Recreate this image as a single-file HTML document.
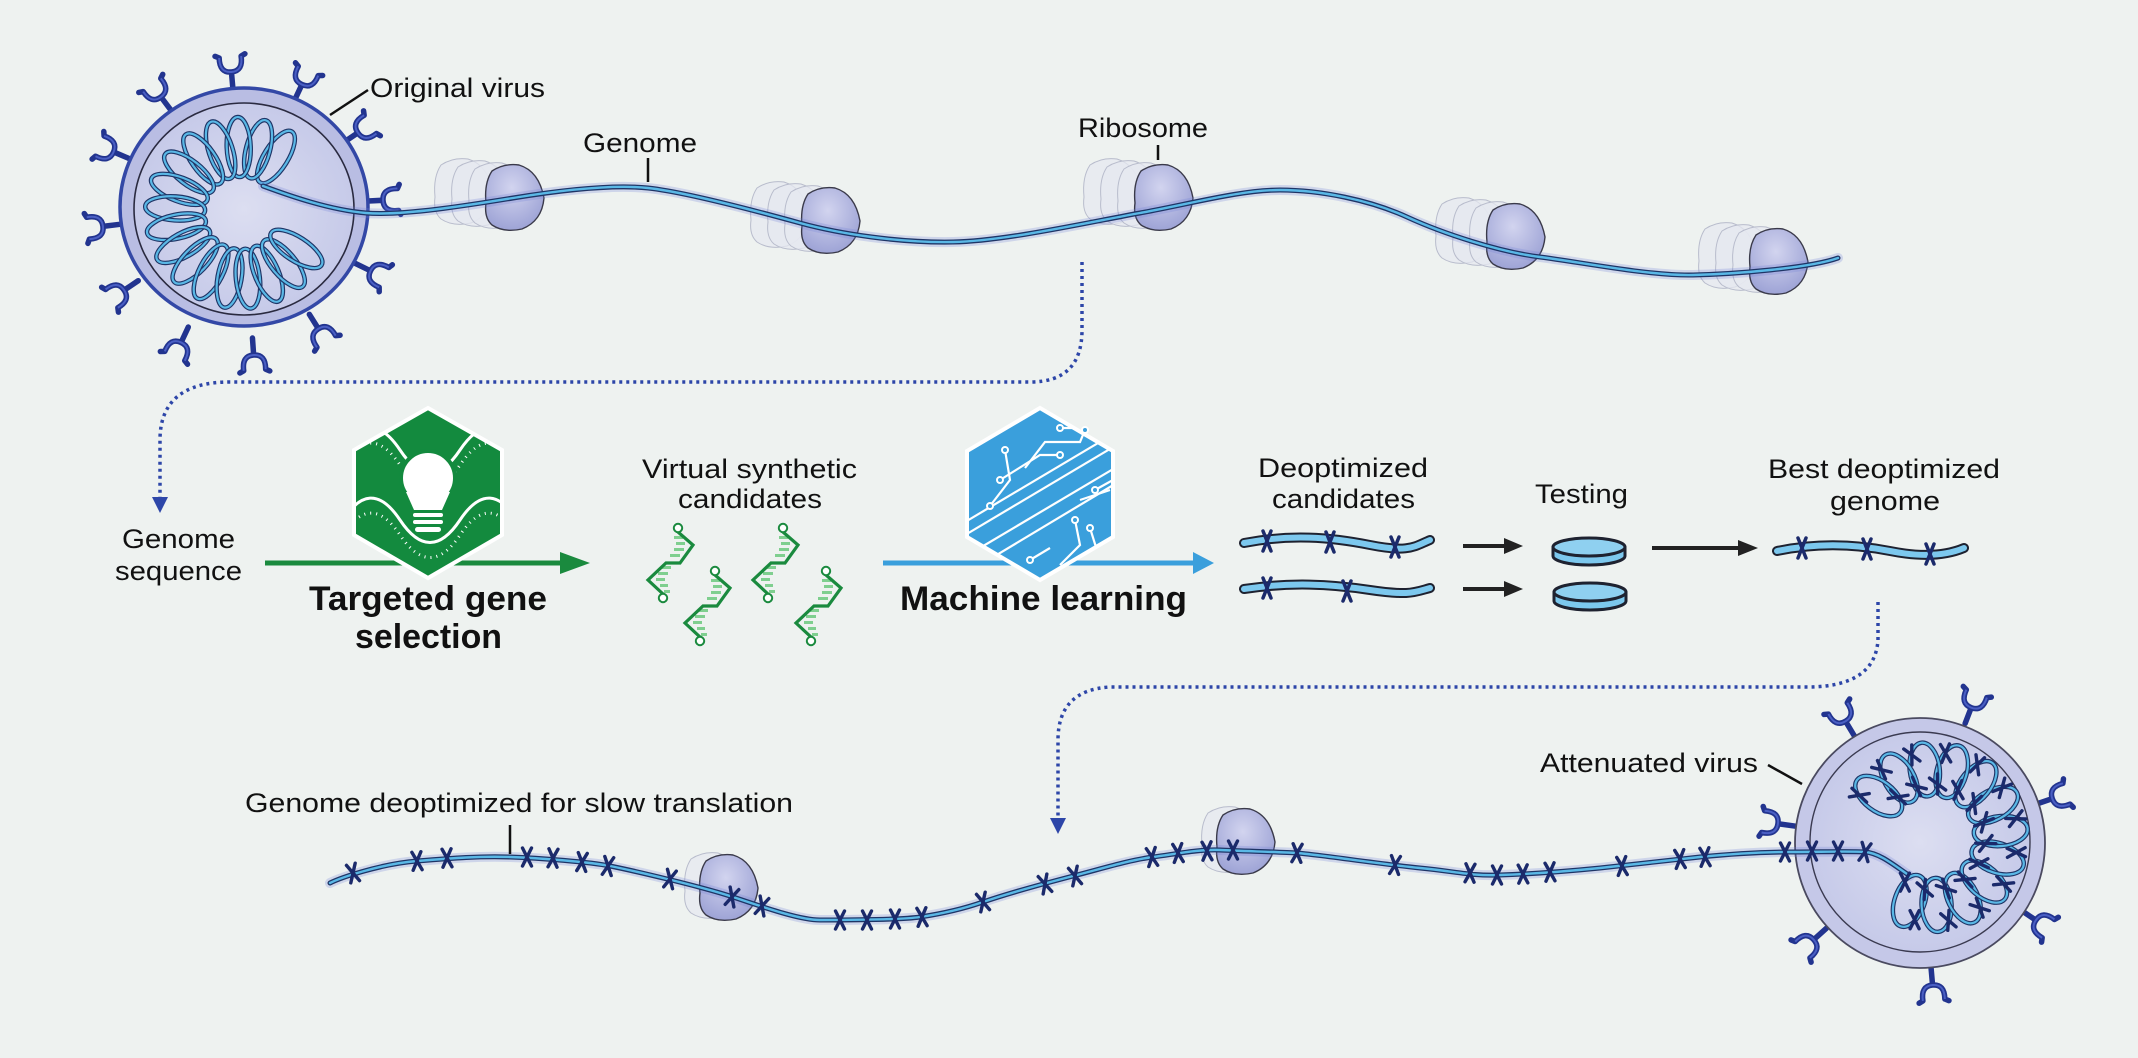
<!DOCTYPE html>
<html><head><meta charset="utf-8">
<style>
html,body{margin:0;padding:0;background:#eef2f0;}
svg{display:block;}
text{font-family:"Liberation Sans",sans-serif;fill:#111;}
.s1{fill:none;stroke:#6f80d8;stroke-width:10;stroke-opacity:.25;stroke-linecap:round}
.s2{fill:none;stroke:#1f3566;stroke-width:5;stroke-linecap:round}
.s3{fill:none;stroke:#5ab8e6;stroke-width:2.4;stroke-linecap:round}
.gh{fill:#e6e8f0;fill-opacity:.75;stroke:#b8bccc;stroke-width:1}
.rb{fill:url(#rib);stroke:#3a3a4a;stroke-width:1.4}
</style></head>
<body>
<svg xmlns="http://www.w3.org/2000/svg" xmlns:xlink="http://www.w3.org/1999/xlink" width="2138" height="1058" viewBox="0 0 2138 1058">
<defs>
<radialGradient id="rib" cx="0.45" cy="0.35" r="0.7">
<stop offset="0" stop-color="#d2d4ef"/><stop offset="1" stop-color="#9aa0d4"/></radialGradient>
<radialGradient id="vir" cx="0.5" cy="0.5" r="0.55">
<stop offset="0" stop-color="#dcdef1"/><stop offset="1" stop-color="#c4c8e8"/></radialGradient>
<clipPath id="hexG"><polygon points="428,408 502,450 502,535 428,578 354,535 354,450"/></clipPath>
<clipPath id="hexB"><polygon points="1040,408 1113,451 1113,537 1040,580 967,537 967,451"/></clipPath>
<path id="rp" d="M8,8 Q20,0 35,2 Q55,8 60,35 Q58,58 38,66 Q20,70 8,62 Q0,55 2,40 Q0,20 8,8Z"/>
<g id="sp">
<path d="M0,22 L0,5 M-11,-10 Q-12,5 0,5 Q12,5 11,-10 M-11,-10 L-15,-12 M11,-10 L15,-12" fill="none" stroke="#22348f" stroke-width="5.5" stroke-linecap="round" stroke-linejoin="round"/>
<path d="M-11,-10 Q-12,5 0,5 Q12,5 11,-10" fill="none" stroke="#4a5fc4" stroke-width="2"/>
</g>
<path id="xm" d="M-4.5,-9 L4.5,9 M4.5,-9 L-4.5,9" fill="none" stroke="#1b2a6b" stroke-width="3.4" stroke-linecap="round"/>
<g id="lp">
<ellipse cx="66" cy="0" rx="30" ry="12" fill="none" stroke="#1f3566" stroke-width="4.5"/>
<ellipse cx="66" cy="0" rx="30" ry="12" fill="none" stroke="#5ab8e6" stroke-width="2.2"/>
</g>
<g id="al">
<ellipse cx="68" cy="0" rx="27" ry="15" fill="none" stroke="#1f3566" stroke-width="4.5"/>
<ellipse cx="68" cy="0" rx="27" ry="15" fill="none" stroke="#5ab8e6" stroke-width="2.2"/>
<use href="#xm" xlink:href="#xm" transform="translate(52,11) rotate(70)"/>
<use href="#xm" xlink:href="#xm" transform="translate(84,-11) rotate(70)"/>
</g>
<path id="topg" d="M263,186 C290,196 330,210 366,213 S470,205 513,198 S610,184 648,188 S760,212 800,223 S900,243 953,242 S1090,222 1140,213 S1240,190 1280,190 S1370,200 1407,217 S1500,252 1540,257 S1650,276 1693,275 S1810,268 1838,258"/>
<path id="botg" d="M330,883 C340,878 380,864 417,861 S480,856 510,857 S590,862 610,866 S700,886 733,897 S800,920 820,920 S900,920 920,917 S960,910 983,902 S1050,882 1077,875 S1130,860 1153,857 S1200,849 1220,850 S1280,852 1297,853 S1380,864 1420,868 S1470,876 1500,875 S1570,871 1600,868 S1670,860 1700,857 S1760,852 1790,852 S1850,851 1865,852 S1895,866 1910,876"/>
<g id="dna">
<g fill="#7fcf8f">
<rect x="-4" y="8" width="9" height="3"/><rect x="-2" y="14" width="9" height="3"/><rect x="-4" y="20" width="10" height="3"/><rect x="-8" y="26" width="10" height="3"/>
<rect x="-16" y="38" width="9" height="3"/><rect x="-20" y="44" width="10" height="3"/><rect x="-22" y="50" width="9" height="3"/><rect x="-18" y="56" width="8" height="3"/><rect x="-14" y="62" width="6" height="3"/>
</g>
<polyline points="0,4 15,17 2,35 -12,35 -30,52 -15,66" fill="none" stroke="#1a8a3e" stroke-width="3.2"/>
<circle cx="0" cy="0" r="4.2" fill="#fff" stroke="#1a8a3e" stroke-width="2"/>
<circle cx="-15" cy="70" r="4.2" fill="#fff" stroke="#1a8a3e" stroke-width="2"/>
</g>
</defs>
<rect width="2138" height="1058" fill="#eef2f0"/>

<!-- dotted connectors -->
<g fill="none" stroke="#2d46a8" stroke-width="3.5" stroke-dasharray="3 4">
<path d="M1082,262 L1082,330 Q1082,382 1030,382 L230,382 Q160,382 160,440 L160,498"/>
<path d="M1878,602 L1878,640 Q1875,687 1807,687 L1110,687 Q1058,690 1058,740 L1058,820"/>
</g>
<polygon points="152,497 168,497 160,513" fill="#2d46a8"/>
<polygon points="1050,818 1066,818 1058,834" fill="#2d46a8"/>

<!-- original virus -->
<g>
<use href="#sp" xlink:href="#sp" transform="translate(231,67) rotate(-5)"/>
<use href="#sp" xlink:href="#sp" transform="translate(304,80) rotate(25)"/>
<use href="#sp" xlink:href="#sp" transform="translate(158,93) rotate(-37)"/>
<use href="#sp" xlink:href="#sp" transform="translate(362,130) rotate(56)"/>
<use href="#sp" xlink:href="#sp" transform="translate(109,150) rotate(-67)"/>
<use href="#sp" xlink:href="#sp" transform="translate(388,200) rotate(87)"/>
<use href="#sp" xlink:href="#sp" transform="translate(98,227) rotate(-97)"/>
<use href="#sp" xlink:href="#sp" transform="translate(375,273) rotate(116)"/>
<use href="#sp" xlink:href="#sp" transform="translate(120,293) rotate(236)"/>
<use href="#sp" xlink:href="#sp" transform="translate(321,333) rotate(148)"/>
<use href="#sp" xlink:href="#sp" transform="translate(179,347) rotate(205)"/>
<use href="#sp" xlink:href="#sp" transform="translate(254,360) rotate(176)"/>
<ellipse cx="244" cy="207" rx="124" ry="119" fill="#b9bde3" stroke="#3348a6" stroke-width="3.5"/>
<ellipse cx="244" cy="209" rx="110" ry="106" fill="url(#vir)" stroke="#2a2a40" stroke-width="1.6"/>
<g transform="translate(241,213)">
<use href="#lp" xlink:href="#lp" transform="rotate(-58)"/><use href="#lp" xlink:href="#lp" transform="rotate(-75)"/><use href="#lp" xlink:href="#lp" transform="rotate(-92)"/>
<use href="#lp" xlink:href="#lp" transform="rotate(-108)"/><use href="#lp" xlink:href="#lp" transform="rotate(-125)"/><use href="#lp" xlink:href="#lp" transform="rotate(-142)"/>
<use href="#lp" xlink:href="#lp" transform="rotate(-159)"/><use href="#lp" xlink:href="#lp" transform="rotate(-176)"/><use href="#lp" xlink:href="#lp" transform="rotate(-192)"/>
<use href="#lp" xlink:href="#lp" transform="rotate(-209)"/><use href="#lp" xlink:href="#lp" transform="rotate(-226)"/><use href="#lp" xlink:href="#lp" transform="rotate(-243)"/>
<use href="#lp" xlink:href="#lp" transform="rotate(-260)"/><use href="#lp" xlink:href="#lp" transform="rotate(-276)"/><use href="#lp" xlink:href="#lp" transform="rotate(-293)"/>
<use href="#lp" xlink:href="#lp" transform="rotate(-310)"/><use href="#lp" xlink:href="#lp" transform="rotate(-327)"/>
</g>
</g>

<!-- top ribosomes -->
<g>
<use href="#rp" xlink:href="#rp" class="gh" transform="translate(433,157)"/><use href="#rp" xlink:href="#rp" class="gh" transform="translate(450,159)"/><use href="#rp" xlink:href="#rp" class="gh" transform="translate(467,161)"/><use href="#rp" xlink:href="#rp" class="rb" transform="translate(484,163)"/>
<use href="#rp" xlink:href="#rp" class="gh" transform="translate(749,180)"/><use href="#rp" xlink:href="#rp" class="gh" transform="translate(766,182)"/><use href="#rp" xlink:href="#rp" class="gh" transform="translate(783,184)"/><use href="#rp" xlink:href="#rp" class="rb" transform="translate(800,186)"/>
<use href="#rp" xlink:href="#rp" class="gh" transform="translate(1082,157)"/><use href="#rp" xlink:href="#rp" class="gh" transform="translate(1099,159)"/><use href="#rp" xlink:href="#rp" class="gh" transform="translate(1116,161)"/><use href="#rp" xlink:href="#rp" class="rb" transform="translate(1133,163)"/>
<use href="#rp" xlink:href="#rp" class="gh" transform="translate(1434,196)"/><use href="#rp" xlink:href="#rp" class="gh" transform="translate(1451,198)"/><use href="#rp" xlink:href="#rp" class="gh" transform="translate(1468,200)"/><use href="#rp" xlink:href="#rp" class="rb" transform="translate(1485,202)"/>
<use href="#rp" xlink:href="#rp" class="gh" transform="translate(1697,221)"/><use href="#rp" xlink:href="#rp" class="gh" transform="translate(1714,223)"/><use href="#rp" xlink:href="#rp" class="gh" transform="translate(1731,225)"/><use href="#rp" xlink:href="#rp" class="rb" transform="translate(1748,227)"/>
</g>
<use href="#topg" xlink:href="#topg" class="s1"/><use href="#topg" xlink:href="#topg" class="s2"/><use href="#topg" xlink:href="#topg" class="s3"/>

<!-- attenuated virus -->
<g>
<use href="#sp" xlink:href="#sp" transform="translate(1843,717) rotate(-31)"/>
<use href="#sp" xlink:href="#sp" transform="translate(1973,703) rotate(21)"/>
<use href="#sp" xlink:href="#sp" transform="translate(2057,797) rotate(71)"/>
<use href="#sp" xlink:href="#sp" transform="translate(1773,823) rotate(-82)"/>
<use href="#sp" xlink:href="#sp" transform="translate(2040,923) rotate(124)"/>
<use href="#sp" xlink:href="#sp" transform="translate(1810,943) rotate(228)"/>
<use href="#sp" xlink:href="#sp" transform="translate(1933,990) rotate(175)"/>
<circle cx="1920" cy="843" r="125" fill="#c5c8e8" stroke="#4a4a60" stroke-width="1.8"/>
<circle cx="1920" cy="842" r="110" fill="url(#vir)" stroke="#3a3a50" stroke-width="1.4"/>
</g>

<!-- bottom ribosomes -->
<use href="#rp" xlink:href="#rp" class="gh" transform="translate(683,851)"/><use href="#rp" xlink:href="#rp" class="rb" transform="translate(698,853)"/>
<use href="#rp" xlink:href="#rp" class="gh" transform="translate(1200,805)"/><use href="#rp" xlink:href="#rp" class="rb" transform="translate(1215,807)"/>
<use href="#botg" xlink:href="#botg" class="s1"/><use href="#botg" xlink:href="#botg" class="s2"/><use href="#botg" xlink:href="#botg" class="s3"/>

<g transform="translate(1933,837)">
<use href="#al" xlink:href="#al" transform="rotate(110)"/><use href="#al" xlink:href="#al" transform="rotate(87)"/><use href="#al" xlink:href="#al" transform="rotate(64)"/>
<use href="#al" xlink:href="#al" transform="rotate(41)"/><use href="#al" xlink:href="#al" transform="rotate(18)"/><use href="#al" xlink:href="#al" transform="rotate(-5)"/>
<use href="#al" xlink:href="#al" transform="rotate(-28)"/><use href="#al" xlink:href="#al" transform="rotate(-51)"/><use href="#al" xlink:href="#al" transform="rotate(-74)"/>
<use href="#al" xlink:href="#al" transform="rotate(-97)"/><use href="#al" xlink:href="#al" transform="rotate(-120)"/><use href="#al" xlink:href="#al" transform="rotate(-143)"/>
</g>

<!-- X marks bottom genome -->
<g>
<use href="#xm" xlink:href="#xm" transform="translate(353,873) rotate(-14)"/>
<use href="#xm" xlink:href="#xm" transform="translate(417,861) rotate(-4)"/>
<use href="#xm" xlink:href="#xm" transform="translate(447,858) rotate(-3)"/>
<use href="#xm" xlink:href="#xm" transform="translate(527,857)"/>
<use href="#xm" xlink:href="#xm" transform="translate(553,858) rotate(3)"/>
<use href="#xm" xlink:href="#xm" transform="translate(582,862) rotate(5)"/>
<use href="#xm" xlink:href="#xm" transform="translate(608,866) rotate(8)"/>
<use href="#xm" xlink:href="#xm" transform="translate(670,879) rotate(12)"/>
<use href="#xm" xlink:href="#xm" transform="translate(732,897) rotate(16)"/>
<use href="#xm" xlink:href="#xm" transform="translate(762,906) rotate(16)"/>
<use href="#xm" xlink:href="#xm" transform="translate(840,920)"/>
<use href="#xm" xlink:href="#xm" transform="translate(867,920)"/>
<use href="#xm" xlink:href="#xm" transform="translate(895,919)"/>
<use href="#xm" xlink:href="#xm" transform="translate(922,917) rotate(-4)"/>
<use href="#xm" xlink:href="#xm" transform="translate(983,902) rotate(-14)"/>
<use href="#xm" xlink:href="#xm" transform="translate(1045,884) rotate(-16)"/>
<use href="#xm" xlink:href="#xm" transform="translate(1075,876) rotate(-14)"/>
<use href="#xm" xlink:href="#xm" transform="translate(1152,857) rotate(-8)"/>
<use href="#xm" xlink:href="#xm" transform="translate(1178,853) rotate(-5)"/>
<use href="#xm" xlink:href="#xm" transform="translate(1207,851) rotate(-3)"/>
<use href="#xm" xlink:href="#xm" transform="translate(1233,850)"/>
<use href="#xm" xlink:href="#xm" transform="translate(1297,853) rotate(4)"/>
<use href="#xm" xlink:href="#xm" transform="translate(1395,865) rotate(6)"/>
<use href="#xm" xlink:href="#xm" transform="translate(1470,873) rotate(3)"/>
<use href="#xm" xlink:href="#xm" transform="translate(1497,875)"/>
<use href="#xm" xlink:href="#xm" transform="translate(1523,874) rotate(-2)"/>
<use href="#xm" xlink:href="#xm" transform="translate(1550,872) rotate(-3)"/>
<use href="#xm" xlink:href="#xm" transform="translate(1622,866) rotate(-5)"/>
<use href="#xm" xlink:href="#xm" transform="translate(1680,859) rotate(-5)"/>
<use href="#xm" xlink:href="#xm" transform="translate(1705,857) rotate(-4)"/>
<use href="#xm" xlink:href="#xm" transform="translate(1785,852)"/>
<use href="#xm" xlink:href="#xm" transform="translate(1812,851)"/>
<use href="#xm" xlink:href="#xm" transform="translate(1838,851)"/>
<use href="#xm" xlink:href="#xm" transform="translate(1865,852) rotate(10)"/>
</g>

<!-- green hexagon -->
<line x1="265" y1="563" x2="575" y2="563" stroke="#1a8a3e" stroke-width="5"/>
<polygon points="560,552 590,563 560,574" fill="#1a8a3e"/>
<polygon points="428,408 502,450 502,535 428,578 354,535 354,450" fill="#138a3e" stroke="#fff" stroke-width="4"/>
<g clip-path="url(#hexG)" fill="none" stroke="#fff">
<path d="M340,455 C360,420 380,420 400,450 S440,480 460,450 S500,420 520,455" stroke-width="3"/>
<path d="M340,470 C360,435 380,435 400,465 S440,495 460,465 S500,435 520,470" stroke-width="3" stroke-dasharray="1 5"/>
<path d="M340,525 C360,490 380,490 400,520 S440,550 460,520 S500,490 520,525" stroke-width="3"/>
<path d="M340,540 C360,505 380,505 400,535 S440,565 460,535 S500,505 520,540" stroke-width="3" stroke-dasharray="1 5"/>
</g>
<g fill="#fff">
<circle cx="428" cy="478" r="27" stroke="#138a3e" stroke-width="4"/>
<path d="M406,492 L450,492 L442,510 L414,510Z"/>
<rect x="413" y="513" width="30" height="4" rx="2"/>
<rect x="413" y="520" width="30" height="4" rx="2"/>
<rect x="415" y="527" width="26" height="5" rx="2.5"/>
</g>

<!-- DNA candidates -->
<use href="#dna" xlink:href="#dna" transform="translate(678,528)"/>
<use href="#dna" xlink:href="#dna" transform="translate(715,571)"/>
<use href="#dna" xlink:href="#dna" transform="translate(783,528)"/>
<use href="#dna" xlink:href="#dna" transform="translate(826,571)"/>

<!-- blue hexagon -->
<line x1="883" y1="563" x2="1195" y2="563" stroke="#3a9fdc" stroke-width="5"/>
<polygon points="1193,552 1214,563 1193,574" fill="#3a9fdc"/>
<polygon points="1040,408 1113,451 1113,537 1040,580 967,537 967,451" fill="#3a9fdc" stroke="#fff" stroke-width="4"/>
<g clip-path="url(#hexB)" fill="none" stroke="#fff" stroke-width="2.2">
<path d="M960,525 L1120,430"/><path d="M960,538 L1120,443"/><path d="M968,555 L1125,462"/><path d="M975,568 L1125,478"/>
<path d="M990,506 L1010,480 L1005,450"/><path d="M1000,480 L1040,455 L1060,455"/>
<path d="M1025,468 L1045,442 L1080,442 L1085,430"/><path d="M1060,428 L1090,428"/>
<path d="M1075,520 L1080,545 L1060,565"/><path d="M1090,528 L1100,560"/><path d="M1030,560 L1050,548"/>
<path d="M1095,490 L1113,480"/><path d="M1080,500 L1110,490"/>
</g>
<g fill="#3a9fdc" stroke="#fff" stroke-width="2">
<circle cx="1005" cy="450" r="3"/><circle cx="1060" cy="455" r="3"/><circle cx="1085" cy="430" r="3"/><circle cx="1060" cy="428" r="3"/>
<circle cx="1075" cy="520" r="3"/><circle cx="1090" cy="528" r="3"/><circle cx="1030" cy="560" r="3"/><circle cx="1095" cy="490" r="3"/><circle cx="990" cy="506" r="3"/><circle cx="1000" cy="480" r="3"/>
</g>

<!-- candidate rods -->
<g fill="none" stroke-linecap="round">
<path d="M1244,543 C1290,534 1330,537 1370,545 S1415,546 1430,540" stroke="#1e2230" stroke-width="10"/>
<path d="M1244,543 C1290,534 1330,537 1370,545 S1415,546 1430,540" stroke="#7cc8ee" stroke-width="6"/>
<path d="M1244,589 C1290,582 1330,584 1370,590 S1415,592 1430,588" stroke="#1e2230" stroke-width="10"/>
<path d="M1244,589 C1290,582 1330,584 1370,590 S1415,592 1430,588" stroke="#7cc8ee" stroke-width="6"/>
<path d="M1777,551 C1820,542 1860,545 1890,551 S1945,556 1964,548" stroke="#1e2230" stroke-width="10"/>
<path d="M1777,551 C1820,542 1860,545 1890,551 S1945,556 1964,548" stroke="#7cc8ee" stroke-width="6"/>
</g>
<g stroke="#1b2a6b" stroke-width="3.5" stroke-linecap="round">
<path d="M1263,531 L1271,551 M1271,531 L1263,551"/><path d="M1326,532 L1334,552 M1334,532 L1326,552"/><path d="M1391,537 L1399,557 M1399,537 L1391,557"/>
<path d="M1263,578 L1271,598 M1271,578 L1263,598"/><path d="M1343,581 L1351,601 M1351,581 L1343,601"/>
<path d="M1798,538 L1806,558 M1806,538 L1798,558"/><path d="M1863,539 L1871,559 M1871,539 L1863,559"/><path d="M1926,544 L1934,564 M1934,544 L1926,564"/>
</g>
<g stroke="#222" stroke-width="4"><line x1="1463" y1="546" x2="1508" y2="546"/><line x1="1463" y1="589" x2="1508" y2="589"/><line x1="1652" y1="548" x2="1742" y2="548"/></g>
<g fill="#222"><polygon points="1504,538 1523,546 1504,554"/><polygon points="1504,581 1523,589 1504,597"/><polygon points="1738,540 1758,548 1738,556"/></g>
<g stroke="#1e2230" stroke-width="3">
<path d="M1553,547 L1553,556 A36,9 0 0 0 1625,556 L1625,547" fill="#7cc8ee"/>
<ellipse cx="1589" cy="547" rx="36" ry="9" fill="#8fd0f0"/>
<path d="M1554,592 L1554,601 A36,9 0 0 0 1626,601 L1626,592" fill="#7cc8ee"/>
<ellipse cx="1590" cy="592" rx="36" ry="9" fill="#8fd0f0"/>
</g>

<!-- labels -->
<g font-size="27">
<text x="370" y="97" textLength="175" lengthAdjust="spacingAndGlyphs">Original virus</text>
<text x="583" y="152" textLength="114" lengthAdjust="spacingAndGlyphs">Genome</text>
<text x="1078" y="137" textLength="130" lengthAdjust="spacingAndGlyphs">Ribosome</text>
<text x="122" y="548" textLength="113" lengthAdjust="spacingAndGlyphs">Genome</text>
<text x="115" y="580" textLength="127" lengthAdjust="spacingAndGlyphs">sequence</text>
<text x="642" y="478" textLength="215" lengthAdjust="spacingAndGlyphs">Virtual synthetic</text>
<text x="678" y="508" textLength="144" lengthAdjust="spacingAndGlyphs">candidates</text>
<text x="1258" y="477" textLength="170" lengthAdjust="spacingAndGlyphs">Deoptimized</text>
<text x="1272" y="508" textLength="143" lengthAdjust="spacingAndGlyphs">candidates</text>
<text x="1535" y="503" textLength="93" lengthAdjust="spacingAndGlyphs">Testing</text>
<text x="1768" y="478" textLength="232" lengthAdjust="spacingAndGlyphs">Best deoptimized</text>
<text x="1830" y="510" textLength="110" lengthAdjust="spacingAndGlyphs">genome</text>
<text x="245" y="812" textLength="548" lengthAdjust="spacingAndGlyphs">Genome deoptimized for slow translation</text>
<text x="1540" y="772" textLength="218" lengthAdjust="spacingAndGlyphs">Attenuated virus</text>
</g>
<g font-size="34" font-weight="bold">
<text x="309" y="610" textLength="238" lengthAdjust="spacingAndGlyphs">Targeted gene</text>
<text x="355" y="648" textLength="147" lengthAdjust="spacingAndGlyphs">selection</text>
<text x="900" y="610" textLength="287" lengthAdjust="spacingAndGlyphs">Machine learning</text>
</g>
<g stroke="#111" stroke-width="2.5">
<line x1="330" y1="115" x2="368" y2="90"/>
<line x1="648" y1="158" x2="648" y2="182"/>
<line x1="1158" y1="145" x2="1158" y2="160"/>
<line x1="510" y1="825" x2="510" y2="854"/>
<line x1="1768" y1="765" x2="1802" y2="784"/>
</g>
</svg>
</body></html>
